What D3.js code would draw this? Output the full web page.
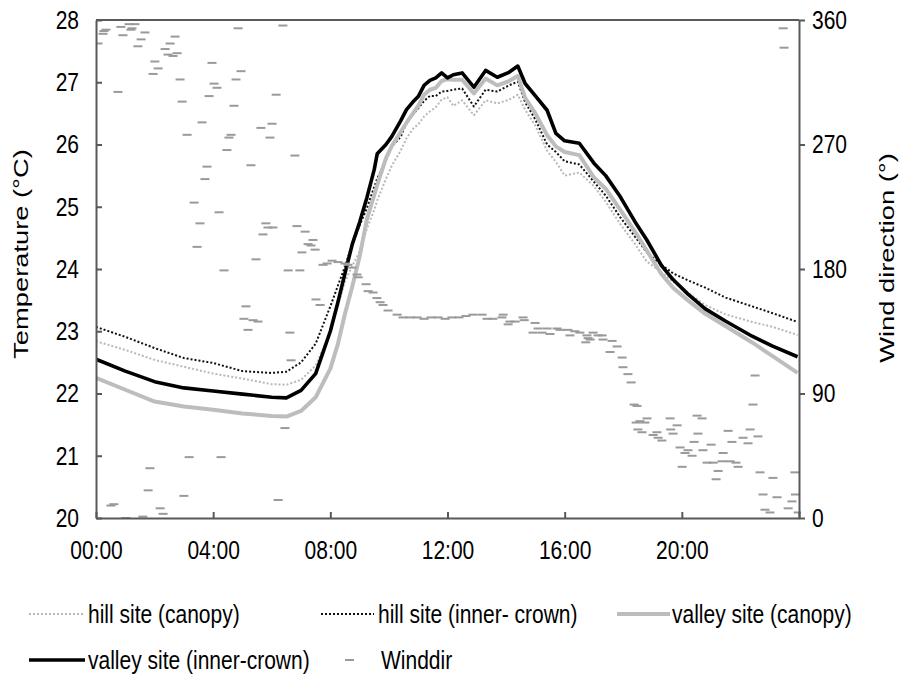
<!DOCTYPE html>
<html>
<head>
<meta charset="utf-8">
<script src="https://cdn.jsdelivr.net/npm/d3@7"></script>
<style>
    body { margin: 0; background: #fff; }
    svg text { font-family: "Liberation Sans", Arial, sans-serif; font-size: 21px; fill: #000; }
</style>
</head>
<body>
<svg id="chart" width="902" height="678"></svg>
<script>
// DATA
var hours = [0, 1, 2, 3, 4, 5, 6, 6.5, 7, 7.5, 8, 8.25, 8.5, 8.75, 9, 9.25, 9.5, 9.6, 9.9, 10.1,
    10.4, 10.6, 10.85, 11, 11.2, 11.4, 11.6, 11.8, 12, 12.2, 12.5, 12.9, 13.3, 13.7, 14.1, 14.4,
    14.65, 15, 15.4, 15.7, 16, 16.5, 17, 17.4, 17.9, 18.4, 18.8, 19.3, 19.7, 20.2, 20.8, 21.5,
    22.4, 23.1, 23.95];

var hillCanopy = [22.84, 22.70, 22.54, 22.43, 22.32, 22.24, 22.15, 22.14, 22.22, 22.45, 22.98, 23.40,
    23.80, 24.05, 24.28, 24.65, 24.95, 25.10, 25.45, 25.66, 25.90, 26.10, 26.27, 26.32, 26.45, 26.53,
    26.60, 26.72, 26.76, 26.62, 26.71, 26.47, 26.71, 26.66, 26.72, 26.80, 26.56, 26.30, 25.90, 25.72,
    25.50, 25.55, 25.33, 25.08, 24.72, 24.40, 24.12, 23.95, 23.80, 23.62, 23.42, 23.27, 23.15, 23.07, 22.94];

var hillInner = [23.07, 22.91, 22.73, 22.57, 22.49, 22.36, 22.33, 22.35, 22.50, 22.80, 23.40, 23.72,
    24.04, 24.40, 24.70, 24.98, 25.32, 25.45, 25.75, 25.97, 26.12, 26.35, 26.50, 26.58, 26.70, 26.78,
    26.78, 26.85, 26.86, 26.88, 26.90, 26.61, 26.88, 26.85, 26.95, 27.01, 26.68, 26.40, 26.00, 25.88,
    25.73, 25.68, 25.40, 25.18, 24.83, 24.52, 24.27, 24.07, 23.93, 23.82, 23.70, 23.54, 23.40, 23.29, 23.15];

var valleyCanopy = [22.25, 22.06, 21.87, 21.79, 21.74, 21.68, 21.64, 21.63, 21.72, 21.94, 22.40, 22.78,
    23.28, 23.72, 24.20, 24.80, 25.19, 25.35, 25.78, 25.98, 26.20, 26.35, 26.52, 26.62, 26.80, 26.88,
    26.91, 27.02, 27.05, 27.04, 27.04, 26.82, 27.06, 26.95, 27.02, 27.10, 26.75, 26.50, 26.15, 25.97,
    25.88, 25.83, 25.47, 25.29, 24.95, 24.60, 24.30, 23.92, 23.70, 23.50, 23.28, 23.08, 22.82, 22.60, 22.33];

var valleyInner = [22.55, 22.36, 22.19, 22.09, 22.04, 21.99, 21.94, 21.93, 22.05, 22.32, 23.00, 23.45,
    23.93, 24.40, 24.75, 25.15, 25.60, 25.85, 26.00, 26.13, 26.38, 26.56, 26.70, 26.77, 26.95, 27.03,
    27.07, 27.15, 27.07, 27.12, 27.15, 26.92, 27.19, 27.08, 27.16, 27.26, 26.98, 26.78, 26.55, 26.18,
    26.06, 26.02, 25.70, 25.50, 25.16, 24.76, 24.47, 24.06, 23.83, 23.60, 23.36, 23.16, 22.92, 22.76, 22.59];

var windHour = [0.07, 0.24, 0.27, 0.34, 0.44, 0.51, 0.61, 0.75, 0.85, 0.92, 1.02, 1.13, 1.19, 1.23, 1.33,
    1.43, 1.54, 1.60, 1.67, 1.78, 1.84, 1.95, 2.01, 2.12, 2.19, 2.29, 2.36, 2.46, 2.53, 2.63, 2.70, 2.77,
    2.87, 2.94, 3.00, 3.11, 3.18, 3.35, 3.45, 3.55, 3.62, 3.72, 3.79, 3.86, 3.96, 4.03, 4.13, 4.20, 4.27,
    4.37, 4.47, 4.54, 4.61, 4.71, 4.78, 4.85, 4.95, 5.05, 5.12, 5.19, 5.29, 5.36, 5.46, 5.53, 5.63, 5.70,
    5.80, 5.87, 5.94, 6.01, 6.04, 6.15, 6.22, 6.38, 6.45, 6.56, 6.62, 6.66, 6.79, 6.86, 6.96, 7.03, 7.14,
    7.24, 7.34, 7.41, 7.48, 7.51, 7.65, 7.75, 7.89, 8.06, 8.26, 8.50, 8.60, 8.74, 8.91, 8.95, 9.22, 9.29,
    9.46, 9.59, 9.70, 9.80, 9.97, 10.28, 10.48, 10.72, 10.96, 11.20, 11.44, 11.68, 11.92, 12.15, 12.39,
    12.63, 12.87, 13.18, 13.35, 13.55, 13.86, 13.90, 14.07, 14.13, 14.31, 14.58, 14.62, 14.92, 14.99,
    15.09, 15.23, 15.40, 15.50, 15.74, 15.84, 16.11, 16.18, 16.35, 16.52, 16.72, 16.76, 16.80, 16.87,
    16.97, 17.14, 17.28, 17.31, 17.55, 17.62, 17.79, 17.96, 17.99, 18.16, 18.27, 18.37, 18.44, 18.47,
    18.50, 18.57, 18.64, 18.74, 18.81, 19.02, 19.15, 19.19, 19.32, 19.60, 19.62, 19.70, 19.84, 19.94,
    20.01, 20.11, 20.21, 20.35, 20.42, 20.52, 20.55, 20.69, 20.72, 20.86, 21.00, 21.07, 21.17, 21.24,
    21.37, 21.41, 21.58, 21.65, 21.71, 21.85, 21.92, 22.09, 22.26, 22.33, 22.43, 22.50, 22.60, 22.67,
    22.77, 22.84, 23.01, 23.11, 23.25, 23.42, 23.46, 23.49, 23.63, 23.76, 23.86, 23.88, 23.97];

var windDir = [343, 350, 352, 353, 360, 9, 10, 308, 355, 349, 0, 357, 353, 354, 357,
    341, 346, 1, 351, 20, 36, 321, 330, 325, 7, 3, 339, 335, 343, 334, 348, 336,
    317, 301, 16, 277, 44, 228, 196, 213, 286, 245, 254, 305, 329, 314, 311, 221, 44,
    179, 266, 275, 277, 298, 317, 354, 323, 144, 153, 136, 255, 143, 187, 142, 282, 205,
    213, 210, 275, 285, 210, 306, 13, 356, 65, 179, 134, 114, 262, 211, 179, 192, 207,
    198, 197, 201, 194, 158, 154, 183, 184, 186, 185, 184, 183, 181, 176, 174, 169, 164,
    163, 159, 156, 154, 150, 147, 145, 145, 145, 144, 145, 145, 144, 145, 145,
    146, 147, 147, 144, 144, 145, 147, 140, 142, 142, 145, 143, 134, 141,
    137, 134, 137, 133, 137, 136, 136, 132, 135, 134, 127, 132, 130, 129,
    134, 132, 132, 129, 120, 128, 124, 116, 109, 104, 98, 82, 69, 81,
    64, 70, 62, 69, 72, 60, 62, 58, 56, 72, 64, 61, 67, 51,
    37, 47, 49, 45, 55, 74, 61, 72, 49, 40, 53, 40, 28, 34,
    41, 47, 63, 41, 55, 40, 37, 58, 54, 64, 82, 103, 59, 33,
    17, 6, 4, 29, 15, 360, 354, 340, 7, 12, 33, 17, 4];

var tempTicks = [20, 21, 22, 23, 24, 25, 26, 27, 28];
var windTicks = [0, 90, 180, 270, 360];
var timeTicks = [0, 4, 8, 12, 16, 20];
var timeLabels = ["00:00", "04:00", "08:00", "12:00", "16:00", "20:00"];

// LAYOUT
var _left = 96, _right = 799, _top = 20, _bottom = 518;
var _axisColor = "#595959";
var _textStretch = 1.25;   // glyphs in the picture are taller than wide

var svg = d3.select("#chart");

var x = d3.scaleLinear().domain([0, 24]).range([_left, _right]);
var yTemp = d3.scaleLinear().domain([20, 28]).range([_bottom, _top]);
var yWind = d3.scaleLinear().domain([0, 360]).range([_bottom, _top]);

var series = [
    { name: "hill site (canopy)", values: hillCanopy, color: "#b8b8b8", width: 2, dash: "2,2" },
    { name: "hill site (inner- crown)", values: hillInner, color: "#111", width: 2, dash: "2,2" },
    { name: "valley site (canopy)", values: valleyCanopy, color: "#bdbdbd", width: 4, dash: null },
    { name: "valley site (inner-crown)", values: valleyInner, color: "#000", width: 3.6, dash: null }
];

svg.append("defs").append("clipPath").attr("id", "plotClip")
    .append("rect")
    .attr("x", _left).attr("y", _top - 2)
    .attr("width", _right - _left + 2).attr("height", _bottom - _top + 4);

var gPlot = svg.append("g").attr("clip-path", "url(#plotClip)");

var line = d3.line()
    .x(function(d, i) { return x(hours[i]); })
    .y(function(d) { return yTemp(d); });

series.forEach(function(s) {
    gPlot.append("path")
        .datum(s.values)
        .attr("d", line)
        .attr("fill", "none")
        .attr("stroke", s.color)
        .attr("stroke-width", s.width)
        .attr("stroke-linejoin", "round")
        .attr("stroke-dasharray", s.dash);
});

// wind direction markers
gPlot.selectAll(".wind")
    .data(windHour)
    .enter()
    .append("line")
        .classed("wind", true)
        .attr("x1", function(d) { return x(d) - 4.5; })
        .attr("x2", function(d) { return x(d) + 4.5; })
        .attr("y1", function(d, i) { return yWind(windDir[i]); })
        .attr("y2", function(d, i) { return yWind(windDir[i]); })
        .attr("stroke", "#9a9a9a")
        .attr("stroke-width", 2);

// frame
svg.append("line")
    .attr("x1", _left).attr("x2", _right)
    .attr("y1", _top).attr("y2", _top)
    .attr("stroke", _axisColor).attr("stroke-width", 2);

var styleAxis = function(g) {
    g.attr("font-size", null).attr("font-family", null);
    g.select(".domain").attr("stroke", _axisColor).attr("stroke-width", 2);
    g.selectAll(".tick line").attr("stroke", _axisColor).attr("stroke-width", 2);
    g.selectAll(".tick text").attr("fill", "#000");
};

// stretch a tick label vertically around its own anchor
var stretchLabel = function(sel, tx, ty) {
    sel.attr("x", 0).attr("y", 0)
        .attr("transform", "translate(" + tx + "," + ty + ") scale(1," + _textStretch + ")");
};

var gLeft = svg.append("g")
    .attr("transform", "translate(" + _left + ",0)")
    .call(d3.axisLeft(yTemp).tickValues(tempTicks).tickSize(-6).tickSizeOuter(0))
    .call(styleAxis);
gLeft.selectAll(".tick text").call(stretchLabel, -17, 0);

var gRight = svg.append("g")
    .attr("transform", "translate(" + _right + ",0)")
    .call(d3.axisRight(yWind).tickValues(windTicks).tickSize(6).tickSizeOuter(0))
    .call(styleAxis);
gRight.selectAll(".tick text").call(stretchLabel, 13, 0);

var gBottom = svg.append("g")
    .attr("transform", "translate(0," + _bottom + ")")
    .call(d3.axisBottom(x).tickValues(timeTicks.concat([24])).tickSize(-6).tickSizeOuter(0)
        .tickFormat(function(d, i) { return i < timeLabels.length ? timeLabels[i] : ""; }))
    .call(styleAxis);
gBottom.selectAll(".tick text").attr("dy", null).call(stretchLabel, 0, 41);

// axis titles
svg.append("text")
    .attr("transform", "translate(28,254) scale(1,1.3) rotate(-90)")
    .style("text-anchor", "middle")
    .text("Temperature (°C)");

svg.append("text")
    .attr("transform", "translate(894,258) scale(1,1.3) rotate(-90)")
    .style("text-anchor", "middle")
    .text("Wind direction (°)");

// legend
var legendItems = [
    { s: series[0], x1: 29, x2: 83, tx: 88, y: 614 },
    { s: series[1], x1: 321, x2: 374, tx: 378, y: 614 },
    { s: series[2], x1: 617, x2: 670, tx: 672, y: 614 },
    { s: series[3], x1: 29, x2: 85, tx: 88, y: 660 }
];

var gLegend = svg.append("g").classed("legend", true);

var legendText = function(label, tx, ty) {
    gLegend.append("text")
        .attr("transform", "translate(" + tx + "," + ty + ") scale(1," + _textStretch + ")")
        .attr("dy", ".35em")
        .text(label);
};

legendItems.forEach(function(d) {
    gLegend.append("line")
        .attr("x1", d.x1).attr("x2", d.x2)
        .attr("y1", d.y).attr("y2", d.y)
        .attr("stroke", d.s.color)
        .attr("stroke-width", d.s.width)
        .attr("stroke-dasharray", d.s.dash);
    legendText(d.s.name, d.tx, d.y);
});

gLegend.append("line")
    .attr("x1", 345).attr("x2", 354)
    .attr("y1", 660).attr("y2", 660)
    .attr("stroke", "#9a9a9a").attr("stroke-width", 2);
legendText("Winddir", 381, 660);
</script>
</body>
</html>
